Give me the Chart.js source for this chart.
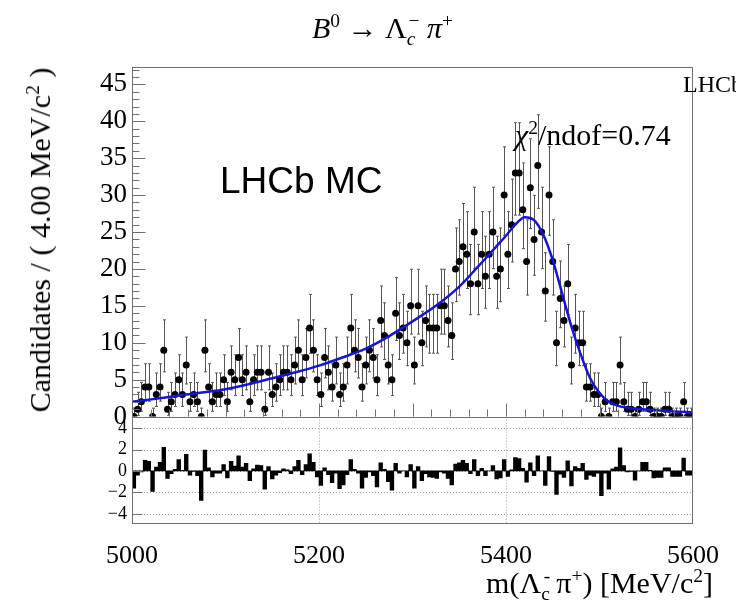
<!DOCTYPE html>
<html>
<head>
<meta charset="utf-8">
<script src="https://cdn.jsdelivr.net/npm/chart.js@4.4.1/dist/chart.umd.min.js"></script>
<style>
  html, body { margin: 0; padding: 0; background: #fff; overflow: hidden; }
  #wrap { position: relative; width: 736px; height: 607px; overflow: hidden; }
  #plot { position: absolute; left: 0; top: 0; }
  .t { position: absolute; white-space: nowrap; font-family: "Liberation Serif", "DejaVu Serif", serif; color: #000; line-height: 1; }
  .t sup, .t sub { font-size: 0.65em; line-height: 0; }
</style>
</head>
<body>
<div id="wrap">
  <canvas id="plot" width="736" height="607"></canvas>
  <div class="t" style="left:312px;top:13px;font-size:30px"><i>B</i><sup>0</sup>&nbsp;&rarr;&nbsp;&Lambda;<sub><i>c</i></sub><sup style="margin-left:-7px">&minus;</sup>&nbsp;<i>&pi;</i><sup>+</sup></div>
  <div class="t" style="left:220px;top:162px;font-size:37px;font-family:'Liberation Sans',Arial,sans-serif">LHCb MC</div>
  <div class="t" style="left:515px;top:120px;font-size:30px"><i>&chi;</i><sup>2</sup>/ndof=0.74</div>
  <div class="t" style="left:683px;top:72px;font-size:24px">LHCb</div>
  <div class="t" style="left:40px;top:240px;font-size:30px;transform:translate(-50%,-50%) rotate(-90deg)">Candidates / ( 4.00 MeV/c<sup>2</sup> )</div>
  <div class="t" style="right:23px;top:568px;font-size:30px">m(&Lambda;<sub>c</sub><sup style="margin-left:-6px">-</sup>&thinsp;&pi;<sup>+</sup>) [MeV/c<sup>2</sup>]</div>
</div>
<script>
// 4 MeV bins from 5000 to 5600
const binStart = 5000;
const binWidth = 4;

const counts = [
  0, 1, 2, 4, 4, 0, 3, 4, 9, 1,
  2, 3, 5, 3, 7, 2, 3, 2, 0, 9,
  4, 2, 3, 3, 5, 2, 6, 5, 8, 5,
  6, 2, 5, 6, 6, 1, 6, 3, 4, 5,
  6, 6, 5, 7, 9, 5, 8, 12, 9, 5,
  3, 8, 6, 4, 7, 3, 4, 7, 12, 9,
  8, 4, 7, 9, 8, 5, 13, 11, 7, 5,
  14, 11, 12, 10, 15, 7, 15, 10, 13, 12,
  12, 12, 15, 15, 13, 11, 20, 21, 23, 22,
  18, 25, 18, 22, 19, 22, 25, 19, 20, 30,
  22, 26, 33, 33, 28, 21, 31, 24, 34, 25,
  17, 30, 21, 10, 16, 13, 18, 7, 12, 10,
  10, 4, 4, 3, 3, 0, 2, 0, 2, 2,
  7, 2, 1, 1, 0, 1, 2, 2, 1, 0,
  0, 0, 1, 1, 0, 0, 0, 2, 0, 0
];

const pulls = [
  -1.6, -0.4, -0.1, 1.0, 0.9, -1.9, 0.35, 0.8, 2.2, -0.7,
  -0.25, 0.15, 1.05, 0.05, 1.55, -0.4, -0.05, -0.45, -2.75, 1.95,
  0.3, -0.55, -0.2, -0.2, 0.6, -0.65, 0.9, 0.45, 1.4, 0.35,
  0.7, -0.9, 0.2, 0.55, 0.5, -1.7, 0.4, -0.75, -0.4, -0.15,
  0.2, 0.1, -0.25, 0.4, 1.0, -0.35, 0.6, 1.6, 0.8, -0.55,
  -1.35, 0.3, -0.35, -1.1, -0.2, -1.65, -1.3, -0.35, 1.05, 0.15,
  -0.2, -1.6, -0.6, -0.1, -0.45, -1.5, 0.75, 0.15, -1.0, -1.8,
  0.7, -0.2, 0.0, -0.55, 0.6, -1.6, 0.4, -0.9, -0.25, -0.55,
  -0.6, -0.7, -0.1, -0.2, -0.7, -1.3, 0.65, 0.75, 1.0, 0.7,
  -0.25, 1.05, -0.45, 0.25, -0.45, 0.0, 0.5, -0.75, -0.65, 1.05,
  -0.5, 0.1, 1.25, 1.15, 0.25, -1.05, 0.75, -0.45, 1.4, 0.0,
  -1.35, 1.35, -0.05, -2.2, -0.3, -0.6, 0.95, -1.4, 0.4, 0.25,
  0.7, -0.8, -0.4, -0.5, -0.2, -2.3, -0.2, -1.7, 0.2, 0.35,
  2.15, 0.5, -0.1, -0.05, -0.85, 0.0, 0.8, 0.8, 0.05, -0.65,
  -0.6, -0.6, 0.3, 0.3, -0.5, -0.5, -0.5, 1.2, -0.4, -0.4
];

const fitMass = [5000, 5025, 5050, 5075, 5100, 5125, 5150, 5175, 5200, 5225, 5250, 5275, 5300, 5325, 5350, 5370, 5390, 5400, 5410, 5420, 5430, 5440, 5450, 5460, 5470, 5480, 5490, 5500, 5510, 5520, 5540, 5560, 5580, 5600];
const fitValue = [2.0, 2.4, 2.85, 3.25, 3.7, 4.4, 5.2, 6.0, 6.9, 8.0, 9.2, 10.9, 12.9, 15.0, 17.6, 20.3, 23.1, 24.5, 26.0, 27.0, 26.6, 24.6, 21.2, 16.7, 12.2, 8.4, 5.2, 3.2, 2.0, 1.45, 1.05, 0.85, 0.7, 0.6];

const yTickValues = [0, 5, 10, 15, 20, 25, 30, 35, 40, 45];
const pullTickValues = [-4, -2, 0, 2, 4];
const xTickValues = [5000, 5200, 5400, 5600];

const binCenter = (i) => binStart + binWidth * (i + 0.5);

// Poisson 68% interval (RooFit style, 0 -> +1.148)
function poissonErr(n) {
  if (n === 0) return [0, 1.148];
  const lo = n * Math.pow(1 - 1 / (9 * n) - 1 / (3 * Math.sqrt(n)), 3);
  const m = n + 1;
  const hi = m * Math.pow(1 - 1 / (9 * m) + 1 / (3 * Math.sqrt(m)), 3);
  return [n - lo, hi - n];
}

const serif = '"Liberation Serif", "DejaVu Serif", serif';

const rootStyle = {
  id: "rootStyle",
  beforeDatasetsDraw(chart) {
    const { ctx, scales } = chart;
    const x = scales.x, y = scales.y, yp = scales.yPull;
    ctx.save();
    // dotted grid of the pull panel
    ctx.strokeStyle = "#a0a0a0";
    ctx.lineWidth = 1;
    ctx.setLineDash([1, 2]);
    pullTickValues.forEach((v) => {
      const py = Math.round(yp.getPixelForValue(v)) + 0.5;
      ctx.beginPath(); ctx.moveTo(x.left, py); ctx.lineTo(x.right, py); ctx.stroke();
    });
    [5200, 5400].forEach((v) => {
      const px = Math.round(x.getPixelForValue(v)) + 0.5;
      ctx.beginPath(); ctx.moveTo(px, yp.top); ctx.lineTo(px, yp.bottom); ctx.stroke();
    });
    ctx.setLineDash([]);

    // error bars
    ctx.strokeStyle = "#555";
    ctx.lineWidth = 1;
    counts.forEach((n, i) => {
      const [el, eh] = poissonErr(n);
      const px = Math.round(x.getPixelForValue(binCenter(i))) + 0.5;
      const p1 = y.getPixelForValue(Math.max(n - el, 0));
      const p2 = y.getPixelForValue(n + eh);
      ctx.beginPath();
      ctx.moveTo(px, p1); ctx.lineTo(px, p2);
      ctx.moveTo(px - 1.5, p2); ctx.lineTo(px + 1.5, p2);
      if (n > 0) { ctx.moveTo(px - 1.5, p1); ctx.lineTo(px + 1.5, p1); }
      ctx.stroke();
    });
    ctx.restore();
  },
  afterDatasetsDraw(chart) {
    const { ctx, scales } = chart;
    const x = scales.x, y = scales.y, yp = scales.yPull;
    ctx.save();
    ctx.strokeStyle = "#707070";
    ctx.lineWidth = 1;
    const L = Math.round(x.left) + 0.5, R = Math.round(x.right) - 0.5;
    // frames
    ctx.strokeRect(L, Math.round(y.top) + 0.5, R - L, Math.round(y.bottom) - Math.round(y.top));
    ctx.strokeRect(L, Math.round(yp.top) + 0.5, R - L, Math.round(yp.bottom) - Math.round(yp.top) - 1);
    ctx.beginPath();
    // y ticks, top panel
    for (let v = 1; v <= 47; v++) {
      const py = Math.round(y.getPixelForValue(v)) + 0.5;
      const len = v % 5 === 0 ? 13 : 7;
      ctx.moveTo(L, py); ctx.lineTo(L + len, py);
    }
    // x ticks at bottom of top panel
    for (let m = 5020; m < 5600; m += 20) {
      const px = Math.round(x.getPixelForValue(m)) + 0.5;
      const len = m % 100 === 0 ? 13 : 7;
      ctx.moveTo(px, y.bottom); ctx.lineTo(px, y.bottom - len);
    }
    // pull ticks
    pullTickValues.forEach((v) => {
      const py = Math.round(yp.getPixelForValue(v)) + 0.5;
      ctx.moveTo(L, py); ctx.lineTo(L + 10, py);
    });
    ctx.stroke();
    ctx.restore();
  }
};

new Chart(document.getElementById("plot"), {
  type: "scatter",
  data: {
    datasets: [
      {
        type: "line",
        yAxisID: "y",
        data: fitMass.map((m, i) => ({ x: m, y: fitValue[i] })),
        borderColor: "#1414dc",
        borderWidth: 2.5,
        pointRadius: 0,
        fill: false,
        cubicInterpolationMode: "monotone"
      },
      {
        type: "scatter",
        yAxisID: "y",
        data: counts.map((n, i) => ({ x: binCenter(i), y: n })),
        backgroundColor: "#000",
        borderColor: "#000",
        borderWidth: 0,
        pointRadius: 3.5
      },
      {
        type: "bar",
        yAxisID: "yPull",
        data: pulls.map((p, i) => ({ x: binCenter(i), y: p })),
        backgroundColor: "#000",
        borderColor: "#000",
        borderWidth: 0,
        barPercentage: 1,
        categoryPercentage: 1
      }
    ]
  },
  options: {
    responsive: false,
    animation: false,
    devicePixelRatio: 1,
    layout: { padding: { top: 67, right: 40, left: 0, bottom: 0 } },
    plugins: { legend: { display: false }, tooltip: { enabled: false } },
    scales: {
      x: {
        type: "linear",
        min: 5000,
        max: 5600,
        offset: false,
        afterBuildTicks: (s) => { s.ticks = xTickValues.map((v) => ({ value: v })); },
        afterFit: (s) => { s.height = 607 - 523.7; },
        grid: { display: false, drawTicks: false },
        border: { display: false },
        ticks: {
          padding: 17,
          color: "#000",
          maxRotation: 0,
          autoSkip: false,
          font: { family: serif, size: 26 },
          callback: (v) => String(v)
        }
      },
      yPull: {
        type: "linear",
        position: "left",
        stack: "panels",
        stackWeight: 107.1,
        min: -4.92,
        max: 5.07,
        afterBuildTicks: (s) => { s.ticks = pullTickValues.map((v) => ({ value: v })); },
        afterFit: (s) => { s.width = 132; },
        grid: { display: false, drawTicks: false },
        border: { display: false },
        ticks: {
          padding: 5,
          color: "#000",
          autoSkip: false,
          font: { family: serif, size: 18 },
          callback: (v) => (v < 0 ? "\u2212" + Math.abs(v) : String(v))
        }
      },
      y: {
        type: "linear",
        position: "left",
        stack: "panels",
        stackWeight: 349.6,
        min: 0,
        max: 47.35,
        afterBuildTicks: (s) => { s.ticks = yTickValues.map((v) => ({ value: v })); },
        afterFit: (s) => { s.width = 132; },
        grid: { display: false, drawTicks: false },
        border: { display: false },
        ticks: { padding: 5, color: "#000", autoSkip: false, font: { family: serif, size: 27 } }
      }
    }
  },
  plugins: [rootStyle]
});
</script>
</body>
</html>
